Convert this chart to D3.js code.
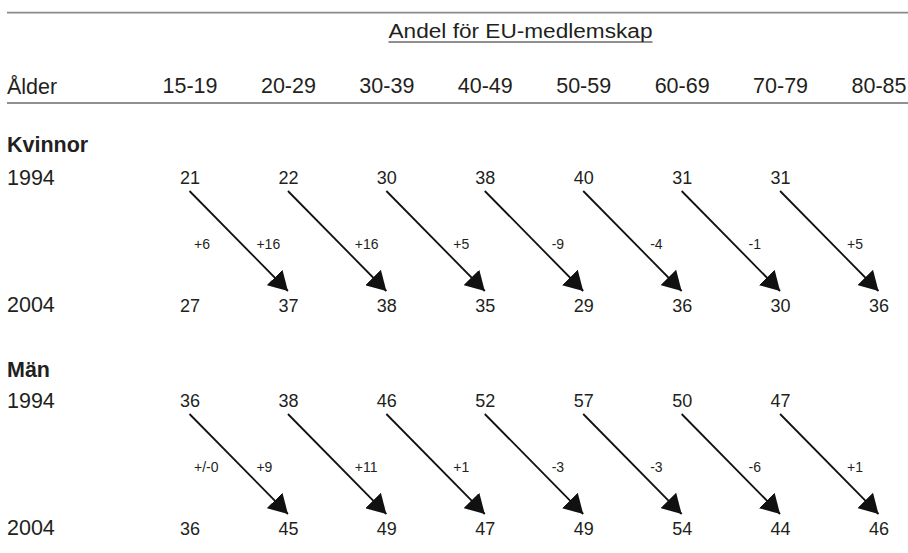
<!DOCTYPE html>
<html>
<head>
<meta charset="utf-8">
<script src="https://cdn.jsdelivr.net/npm/d3@7"></script>
<style>
  html, body { margin: 0; padding: 0; background: #ffffff; }
  svg { display: block; font-family: "Liberation Sans", Arial, Helvetica, sans-serif; }
</style>
</head>
<body>
<svg id="chart" width="908" height="553"></svg>
<script>
// ---- Data ----
const title = "Andel för EU-medlemskap";
const rowHeader = "Ålder";
const ages = ["15-19", "20-29", "30-39", "40-49", "50-59", "60-69", "70-79", "80-85"];
const groups = ["Kvinnor", "Män"];
const years = ["1994", "2004"];
const women1994 = [21, 22, 30, 38, 40, 31, 31];
const women2004 = [27, 37, 38, 35, 29, 36, 30, 36];
const womenDelta = ["+6", "+16", "+16", "+5", "-9", "-4", "-1", "+5"];
const men1994 = [36, 38, 46, 52, 57, 50, 47];
const men2004 = [36, 45, 49, 47, 49, 54, 44, 46];
const menDelta = ["+/-0", "+9", "+11", "+1", "-3", "-3", "-6", "+1"];

const series = [
  { name: groups[0], v1994: women1994, v2004: women2004, delta: womenDelta,
    yHead: 152, y1994: 185, yDelta: 248.5, y2004: 312 },
  { name: groups[1], v1994: men1994, v2004: men2004, delta: menDelta,
    yHead: 377, y1994: 408, yDelta: 472, y2004: 535 }
];

// ---- Layout ----
const W = 908, H = 553;
const textColor = "#231f20";
const svg = d3.select("#chart");

const x = d3.scalePoint().domain(ages).range([190, 879]);

// arrow marker
svg.append("defs").append("marker")
  .attr("id", "head")
  .attr("viewBox", "0 0 19 22")
  .attr("refX", 19).attr("refY", 11)
  .attr("markerUnits", "userSpaceOnUse")
  .attr("markerWidth", 19).attr("markerHeight", 22)
  .attr("orient", "auto")
  .append("path")
  .attr("d", "M0,0 L19,11 L0,22 Z")
  .attr("fill", "#111");

// top rule
svg.append("line")
  .attr("x1", 7).attr("x2", W).attr("y1", 12.7).attr("y2", 12.7)
  .attr("stroke", "#8a8a8a").attr("stroke-width", 1.8);

// title
svg.append("text")
  .attr("x", 520.5).attr("y", 38)
  .attr("text-anchor", "middle")
  .attr("font-size", 20)
  .attr("textLength", 264)
  .attr("lengthAdjust", "spacingAndGlyphs")
  .attr("fill", textColor)
  .text(title);
svg.append("line")
  .attr("x1", 388.5).attr("x2", 652.5).attr("y1", 42).attr("y2", 42)
  .attr("stroke", textColor).attr("stroke-width", 1);

// header row
svg.append("text")
  .attr("x", 7).attr("y", 93.5)
  .attr("font-size", 21.5)
  .attr("fill", textColor)
  .text(rowHeader);
svg.selectAll("text.age").data(ages).join("text")
  .attr("class", "age")
  .attr("x", d => x(d)).attr("y", 92.5)
  .attr("text-anchor", "middle")
  .attr("font-size", 21.5)
  .attr("fill", textColor)
  .text(d => d);

svg.append("line")
  .attr("x1", 7).attr("x2", W).attr("y1", 103).attr("y2", 103)
  .attr("stroke", "#6b6b6b").attr("stroke-width", 1.3);

// groups
series.forEach(s => {
  const g = svg.append("g");
  g.append("text")
    .attr("x", 7).attr("y", s.yHead)
    .attr("font-size", 21.5).attr("font-weight", "bold")
    .attr("fill", textColor)
    .text(s.name);
  g.append("text")
    .attr("x", 7).attr("y", s.y1994)
    .attr("font-size", 21.5)
    .attr("fill", textColor)
    .text(years[0]);
  g.append("text")
    .attr("x", 7).attr("y", s.y2004)
    .attr("font-size", 21.5)
    .attr("fill", textColor)
    .text(years[1]);

  g.selectAll("text.v1994").data(s.v1994).join("text")
    .attr("class", "v1994")
    .attr("x", (d, i) => x(ages[i])).attr("y", s.y1994 - 1)
    .attr("text-anchor", "middle")
    .attr("font-size", 18)
    .attr("fill", textColor)
    .text(d => d);

  g.selectAll("text.v2004").data(s.v2004).join("text")
    .attr("class", "v2004")
    .attr("x", (d, i) => x(ages[i])).attr("y", s.y2004)
    .attr("text-anchor", "middle")
    .attr("font-size", 18)
    .attr("fill", textColor)
    .text(d => d);

  g.selectAll("text.delta").data(s.delta).join("text")
    .attr("class", "delta")
    .attr("x", (d, i) => i === 0 ? x(ages[i]) + 4 : x(ages[i]) - 32)
    .attr("y", s.yDelta)
    .attr("font-size", 14)
    .attr("fill", textColor)
    .text(d => d);

  g.selectAll("line.arrow").data(s.v1994).join("line")
    .attr("class", "arrow")
    .attr("x1", (d, i) => x(ages[i]) - 0.5)
    .attr("y1", s.y1994 + 6)
    .attr("x2", (d, i) => x(ages[i + 1]) - 0.5)
    .attr("y2", s.y2004 - 21)
    .attr("stroke", "#111")
    .attr("stroke-width", 1.8)
    .attr("marker-end", "url(#head)");
});
</script>
</body>
</html>
